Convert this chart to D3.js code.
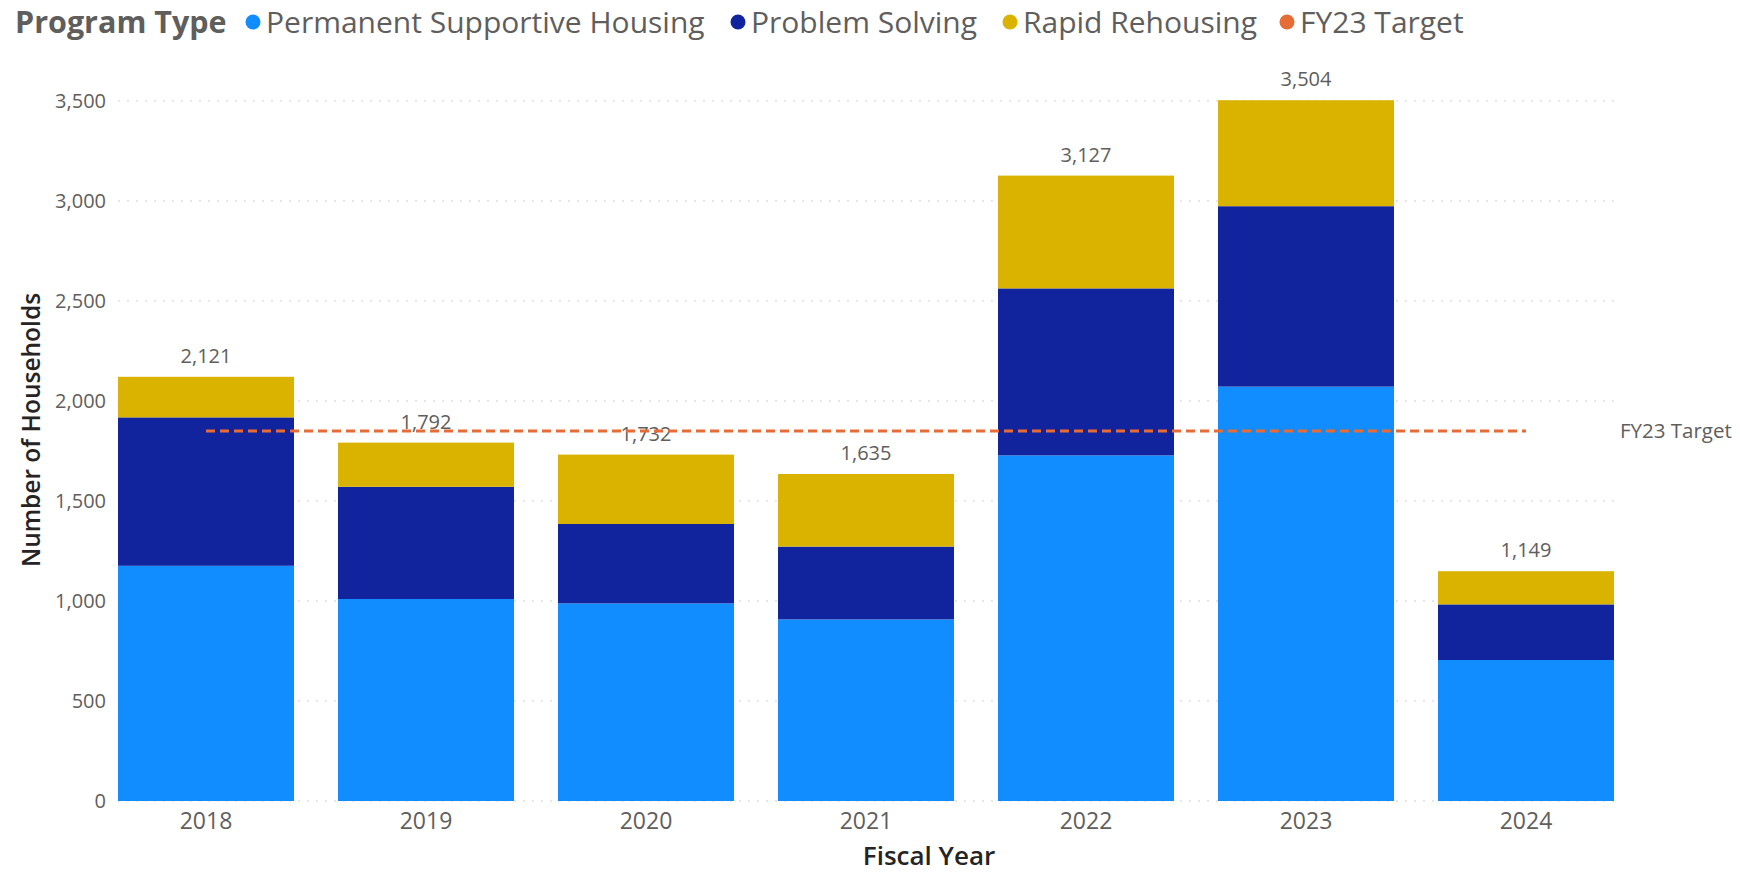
<!DOCTYPE html>
<html>
<head>
<meta charset="utf-8">
<script src="https://cdn.jsdelivr.net/npm/d3@7"></script>
<style>
  body { margin: 0; background: #fff; }
  svg { font-family: "Segoe UI", "Open Sans", sans-serif; }
</style>
</head>
<body>
<svg id="chart" width="1740" height="872"></svg>
<script>
// values
var years = ["2018", "2019", "2020", "2021", "2022", "2023", "2024"];
var programs = ["Permanent Supportive Housing", "Problem Solving", "Rapid Rehousing"];
var psh = [1176, 1010, 988, 908, 1728, 2072, 705];
var problemSolving = [742, 561, 397, 364, 835, 902, 278];
var rapidRehousing = [203, 221, 347, 363, 564, 530, 166];
var fy23Target = 1850;
var yTicks = [0, 500, 1000, 1500, 2000, 2500, 3000, 3500];
var colors = ["#118DFF", "#12239E", "#D9B300"];
var targetColor = "#E66C37";

var svg = d3.select("#chart");

var rows = years.map(function(y, i) {
    return { year: y, psh: psh[i], ps: problemSolving[i], rr: rapidRehousing[i] };
});
var keys = ["psh", "ps", "rr"];
var stacked = d3.stack().keys(keys)(rows);

var x = d3.scaleBand().domain(years).range([118, 1614]).paddingInner(0.2).paddingOuter(0);
var y = d3.scaleLinear().domain([0, 3500]).range([801, 101]);

// gridlines
svg.append("g")
   .selectAll("line")
   .data(yTicks)
   .join("line")
   .attr("x1", 118)
   .attr("x2", 1614)
   .attr("y1", function(d) { return y(d); })
   .attr("y2", function(d) { return y(d); })
   .attr("stroke", "#cfcfcf")
   .attr("stroke-width", 1)
   .attr("stroke-dasharray", "2,7");

// y axis
var yAxis = svg.append("g")
   .attr("transform", "translate(106,0)")
   .call(d3.axisLeft(y).tickValues(yTicks).tickSize(0).tickPadding(0).tickFormat(d3.format(",")));
yAxis.select(".domain").remove();
yAxis.selectAll("text")
     .attr("fill", "#605E5C")
     .attr("font-size", "20px")
     .attr("font-family", "'Segoe UI', 'Open Sans', sans-serif");

// x axis
var xAxis = svg.append("g")
   .attr("transform", "translate(0,812)")
   .call(d3.axisBottom(x).tickSize(0).tickPadding(0));
xAxis.select(".domain").remove();
xAxis.selectAll("text")
     .attr("dy", "0.75em")
     .attr("fill", "#605E5C")
     .attr("font-size", "23px")
     .attr("font-family", "'Segoe UI', 'Open Sans', sans-serif");

// stacked bars
svg.append("g")
   .selectAll("g")
   .data(stacked)
   .join("g")
   .attr("fill", function(d, i) { return colors[i]; })
   .selectAll("rect")
   .data(function(d) { return d; })
   .join("rect")
   .attr("x", function(d) { return x(d.data.year); })
   .attr("width", x.bandwidth())
   .attr("y", function(d) { return y(d[1]); })
   .attr("height", function(d) { return y(d[0]) - y(d[1]); });

// totals above bars
svg.append("g")
   .selectAll("text")
   .data(rows)
   .join("text")
   .attr("x", function(d) { return x(d.year) + x.bandwidth() / 2; })
   .attr("y", function(d) { return y(d.psh + d.ps + d.rr) - 14; })
   .attr("text-anchor", "middle")
   .attr("fill", "#605E5C")
   .attr("font-size", "20px")
   .text(function(d) { return d3.format(",")(d.psh + d.ps + d.rr); });

// target line, centre of first bar to centre of last bar
var lineStart = x(years[0]) + x.bandwidth() / 2;
var lineEnd = x(years[years.length - 1]) + x.bandwidth() / 2;
svg.append("path")
   .attr("d", "M" + lineStart + "," + y(fy23Target) + "H" + lineEnd)
   .attr("fill", "none")
   .attr("stroke", targetColor)
   .attr("stroke-width", 3)
   .attr("stroke-dasharray", "9,5");

svg.append("text")
   .attr("x", 1620)
   .attr("y", y(fy23Target))
   .attr("dy", "0.35em")
   .attr("fill", "#605E5C")
   .attr("font-size", "20.5px")
   .text("FY23 Target");

// axis titles
svg.append("text")
   .attr("transform", "translate(40,430) rotate(-90)")
   .attr("text-anchor", "middle")
   .attr("fill", "#252423")
   .attr("font-size", "24.5px")
   .attr("font-weight", "600")
   .text("Number of Households");

svg.append("text")
   .attr("x", 929)
   .attr("y", 865)
   .attr("text-anchor", "middle")
   .attr("fill", "#252423")
   .attr("font-size", "26px")
   .attr("font-weight", "600")
   .text("Fiscal Year");

// legend
var legendItems = programs.map(function(p, i) { return { name: p, color: colors[i] }; });
legendItems.push({ name: "FY23 Target", color: targetColor });
var legendX = [253, 738, 1010, 1287];

var legend = svg.append("g");
legend.append("text")
      .attr("x", 15)
      .attr("y", 22)
      .attr("dy", "0.35em")
      .attr("fill", "#605E5C")
      .attr("font-size", "30.5px")
      .attr("font-weight", "bold")
      .text("Program Type");

var li = legend.selectAll("g.item")
      .data(legendItems)
      .join("g")
      .attr("class", "item")
      .attr("transform", function(d, i) { return "translate(" + legendX[i] + ",22)"; });
li.append("circle")
  .attr("r", 7.5)
  .attr("fill", function(d) { return d.color; });
li.append("text")
  .attr("x", 13)
  .attr("dy", "0.35em")
  .attr("fill", "#605E5C")
  .attr("font-size", "30px")
  .text(function(d) { return d.name; });
</script>
</body>
</html>
